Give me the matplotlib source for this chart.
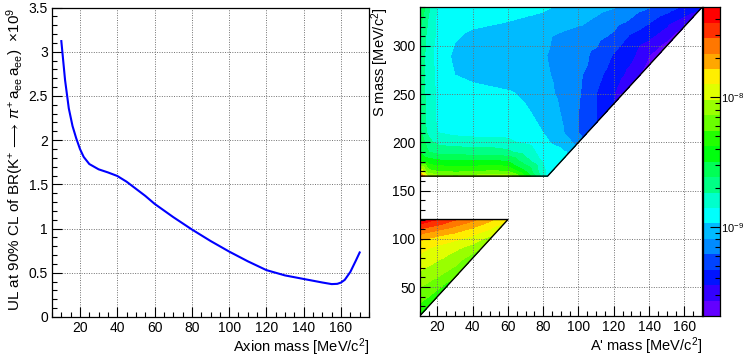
import colorsys
import numpy as np
import matplotlib
matplotlib.use('Agg')
import matplotlib.pyplot as plt
import matplotlib.tri as mtri
from matplotlib.colors import ListedColormap
from matplotlib.ticker import MultipleLocator, FuncFormatter, FixedLocator, NullFormatter

plt.rcParams['font.family'] = ['Liberation Sans', 'DejaVu Sans']
plt.rcParams['mathtext.fontset'] = 'custom'
plt.rcParams['mathtext.rm'] = 'Liberation Sans'
plt.rcParams['mathtext.it'] = 'Liberation Sans:italic'
plt.rcParams['mathtext.sf'] = 'Liberation Sans'
plt.rcParams['font.size'] = 10

# ---- left panel: UL on BR(K+ -> pi+ a a), x1e-9
axion_mass = [10, 12, 14, 16, 18, 20, 22, 25, 30, 35, 40, 45, 50, 55, 60, 70, 80,
              90, 100, 110, 120, 130, 140, 150, 155, 158, 160, 162, 165, 168, 170]
axion_ul = [3.12, 2.68, 2.36, 2.16, 2.02, 1.90, 1.81, 1.73, 1.67, 1.635, 1.595, 1.53,
            1.45, 1.37, 1.28, 1.13, 0.99, 0.86, 0.74, 0.63, 0.53, 0.47, 0.43, 0.39,
            0.372, 0.375, 0.39, 0.42, 0.51, 0.64, 0.73]

# ---- right panel: UL map (units of 1e-9), rows of S mass.
# each row: values at grid_a points with A' < S/2, last value on the edge A' = S/2
grid_a = [10, 15, 20, 30, 40, 50, 60, 70, 80, 90, 100, 110, 120, 130, 140, 150, 160]

upper_s = [165, 170, 180, 190, 210, 230, 250, 270, 290, 310, 325, 340]
upper_ul = [
    [32.6, 9.00, 7.64, 7.23, 7.64, 8.52, 8.52, 4.18, 1.60, 1.32],
    [12.5, 5.97, 5.50, 5.20, 5.35, 5.65, 5.50, 3.18, 1.48, 1.22],
    [4.18, 3.64, 3.45, 3.36, 3.36, 3.45, 3.18, 2.11, 1.36, 1.12],
    [3.18, 2.42, 2.17, 2.11, 2.05, 2.05, 1.94, 1.60, 1.25, 1.12, 1.03],
    [2.60, 1.70, 1.40, 1.29, 1.25, 1.25, 1.22, 1.15, 1.06, 0.853, 0.614, 0.507],
    [2.20, 1.66, 1.32, 1.22, 1.19, 1.15, 1.12, 1.09, 1.005, 0.80, 0.614, 0.467, 0.385],
    [2.15, 1.65, 1.32, 1.22, 1.15, 1.12, 1.09, 1.03, 0.90, 0.76, 0.631, 0.467, 0.355,
     0.318],
    [2.15, 1.65, 1.29, 1.06, 1.005, 0.978, 0.952, 0.926, 0.853, 0.744, 0.648, 0.507,
     0.407, 0.318, 0.266],
    [2.15, 1.65, 1.25, 1.005, 0.952, 0.926, 0.926, 0.901, 0.830, 0.724, 0.666, 0.581,
     0.454, 0.375, 0.270, 0.242],
    [2.15, 1.66, 1.32, 1.09, 1.005, 0.978, 0.952, 0.926, 0.853, 0.764, 0.704, 0.666,
     0.581, 0.442, 0.375, 0.301, 0.249],
    [2.60, 1.75, 1.32, 1.19, 1.12, 1.09, 1.06, 1.03, 1.005, 0.926, 0.853, 0.764, 0.685,
     0.581, 0.480, 0.385, 0.309, 0.285],
    [3.18, 1.95, 1.36, 1.22, 1.19, 1.15, 1.15, 1.12, 1.09, 1.03, 0.952, 0.876, 0.818,
     0.704, 0.622, 0.535, 0.442, 0.375],
]
# extra points on the kinematic edge A' = S/2
upper_edge_s = [200, 220, 240, 260, 280, 300, 320, 330]
upper_edge_ul = [0.724, 0.467, 0.36, 0.285, 0.249, 0.242, 0.266, 0.309]

lower_s = [20, 30, 40, 50, 60, 70, 80, 90, 100, 110, 115, 120]
lower_ul = [
    [3.64],
    [5.20, 3.96],
    [6.13, 5.50, 4.41],
    [7.23, 6.66, 5.97, 4.93],
    [8.52, 7.85, 7.23, 5.50],
    [10.0, 9.25, 8.29, 7.03, 5.81],
    [11.8, 10.9, 10.0, 8.52, 6.30],
    [13.6, 12.5, 11.5, 10.0, 8.29, 7.23],
    [17.4, 16.0, 14.7, 13.2, 11.2, 8.52],
    [28.4, 24.8, 22.9, 18.9, 15.6, 12.5, 10.3],
    [37.4, 33.5, 30.1, 23.5, 18.9, 14.7, 11.8],
    [44.1, 40.6, 37.4, 29.2, 22.9, 17.4, 13.2],
]

z_min, z_max, n_contours = 2.05e-10, 4.92e-8, 20


def region_points(s_rows, ul_rows, edge_s=(), edge_ul=()):
    xs, ys, zs = [], [], []
    for s, vals in zip(s_rows, ul_rows):
        a_in = [a for a in grid_a if a < s / 2]
        xs += a_in + [s / 2]
        ys += [s] * (len(a_in) + 1)
        zs += vals
    for s, v in zip(edge_s, edge_ul):
        xs.append(s / 2)
        ys.append(s)
        zs.append(v)
    return np.array(xs, float), np.array(ys, float), np.log10(np.array(zs) * 1e-9)


# ROOT "pretty palette" (50 colours, violet -> red), picked for 20 contours
palette = [colorsys.hls_to_rgb((280 - (i + 1) * 5.6) / 360, 0.5, 1.0) for i in range(50)]
band_colors = [palette[int((k + 0.99) * 50 / n_contours)] for k in range(n_contours)]
log_levels = np.linspace(np.log10(z_min), np.log10(z_max), n_contours + 1)

fig = plt.figure(figsize=(7.44, 3.58), dpi=100)

grid_kw = dict(color='#707070', linestyle=(0, (1, 1.5)), linewidth=0.7)
tick_kw = dict(direction='in', top=False, right=False, labelsize=10)


def style_axes(ax):
    ax.tick_params(which='major', length=7, width=0.8, pad=3, **tick_kw)
    ax.tick_params(which='minor', length=3.5, width=0.8, **tick_kw)
    ax.grid(True, which='major', **grid_kw)
    for sp in ax.spines.values():
        sp.set_linewidth(0.9)


# ---- left
ax1 = fig.add_axes([52 / 744, 41 / 358, 317 / 744, 309.5 / 358])
ax1.plot(axion_mass, axion_ul, color='#0000ff', lw=1.5)
ax1.set_xlim(5, 175)
ax1.set_ylim(0, 3.5)
ax1.xaxis.set_major_locator(MultipleLocator(20))
ax1.xaxis.set_minor_locator(MultipleLocator(5))
ax1.yaxis.set_major_locator(MultipleLocator(0.5))
ax1.yaxis.set_minor_locator(MultipleLocator(0.1))
ax1.yaxis.set_major_formatter(FuncFormatter(lambda v, p: f'{v:g}'))
style_axes(ax1)
ax1.set_xlabel(r'Axion mass [MeV/$\mathrm{c}^{2}$]', loc='right', labelpad=1, fontsize=10.5)
ax1.set_ylabel(r'UL at 90% CL of BR(K$^{+}\,\longrightarrow\,\pi^{+}\,$a$_{\mathrm{ee}}\,$a$_{\mathrm{ee}}$)  $\times$10$^{9}$',
               loc='top', labelpad=2, fontsize=11)

# ---- right
ax2 = fig.add_axes([419.7 / 744, 42 / 358, 282.3 / 744, 308.7 / 358])
for rows in [(upper_s, upper_ul, upper_edge_s, upper_edge_ul), (lower_s, lower_ul)]:
    x, y, lz = region_points(*rows)
    tri = mtri.Triangulation(x, y)
    ax2.tricontourf(tri, np.clip(lz, log_levels[0] + 1e-6, log_levels[-1] - 1e-6),
                    levels=log_levels, colors=band_colors, antialiased=False)

# outline of the two allowed regions
lo_s0, lo_s1 = min(lower_s), max(lower_s)
up_s0, up_s1 = min(upper_s), max(upper_s)
a0 = min(grid_a)
ax2.plot([lo_s0 / 2, lo_s1 / 2, a0], [lo_s0, lo_s1, lo_s1], color='black', lw=1.0)
ax2.plot([a0, up_s0 / 2, up_s1 / 2], [up_s0, up_s0, up_s1], color='black', lw=1.0)

ax2.set_xlim(10, 170)
ax2.set_ylim(20, 340)
ax2.xaxis.set_major_locator(MultipleLocator(20))
ax2.xaxis.set_minor_locator(MultipleLocator(5))
ax2.yaxis.set_major_locator(MultipleLocator(50))
ax2.yaxis.set_minor_locator(MultipleLocator(10))
style_axes(ax2)
ax2.set_xlabel(r"A' mass [MeV/$\mathrm{c}^{2}$]", loc='right', labelpad=1, fontsize=10.5)
ax2.set_ylabel(r'S mass [MeV/$\mathrm{c}^{2}$]', loc='top', labelpad=1, fontsize=10.5)

# ---- palette
cax = fig.add_axes([703 / 744, 42 / 358, 17 / 744, 308.7 / 358])
edges = 10 ** log_levels
cax.pcolormesh([0, 1], edges, np.arange(n_contours).reshape(-1, 1),
               cmap=ListedColormap(band_colors), vmin=-0.5, vmax=n_contours - 0.5)
cax.set_yscale('log')
cax.set_ylim(edges[0], edges[-1])
cax.set_xlim(0, 1)
cax.set_xticks([])
cax.yaxis.tick_right()
cax.yaxis.set_major_locator(FixedLocator([1e-9, 1e-8]))
cax.yaxis.set_major_formatter(FuncFormatter(lambda v, p: r'$10^{%d}$' % round(np.log10(v))))
minor = [m * 10.0 ** e for e in (-10, -9, -8) for m in range(2, 10)]
cax.yaxis.set_minor_locator(FixedLocator([v for v in minor if edges[0] < v < edges[-1]]))
cax.yaxis.set_minor_formatter(NullFormatter())
cax.tick_params(which='major', direction='in', length=7, width=0.8, left=False, right=True,
                labelsize=8, pad=1)
cax.tick_params(which='minor', direction='in', length=3.5, width=0.8, left=False, right=True)
for sp in cax.spines.values():
    sp.set_linewidth(0.9)

fig.savefig('out.png', dpi=100)
